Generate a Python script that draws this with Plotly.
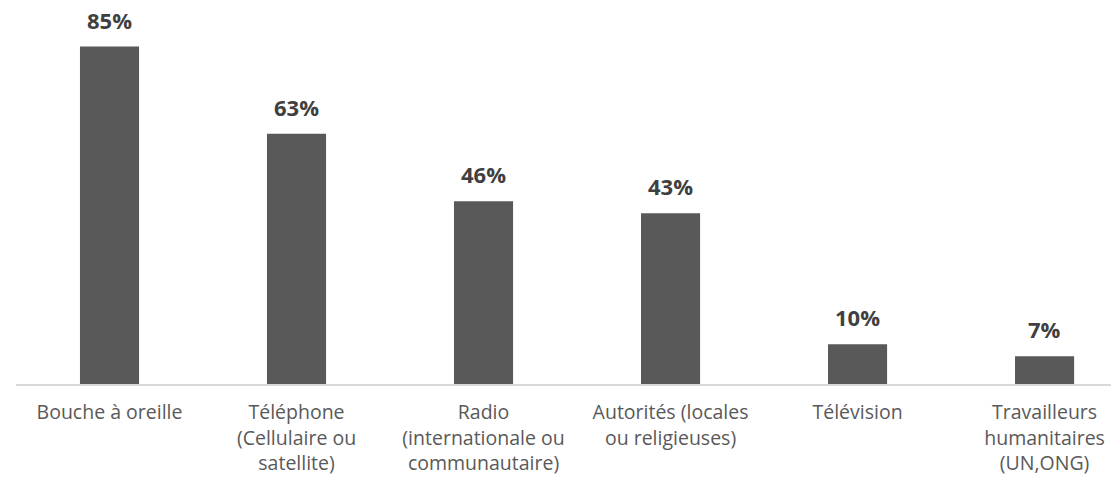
import plotly.graph_objects as go

categories = [
    "Bouche à oreille",
    "Téléphone<br>(Cellulaire ou<br>satellite)",
    "Radio<br>(internationale ou<br>communautaire)",
    "Autorités (locales<br>ou religieuses)",
    "Télévision",
    "Travailleurs<br>humanitaires<br>(UN,ONG)",
]
values = [85, 63, 46, 43, 10, 7]
labels = [f"{v}%" for v in values]

x_pos = list(range(len(categories)))

fig = go.Figure()
fig.add_trace(go.Bar(
    x=x_pos,
    y=values,
    width=0.316,
    marker=dict(color="#595959", line=dict(width=0)),
    hoverinfo="skip",
))

# bold value labels above bars
for xi, v, lab in zip(x_pos, values, labels):
    fig.add_annotation(
        x=xi, y=v, text=f"<b>{lab}</b>",
        showarrow=False, yanchor="bottom", yshift=11, borderpad=0,
        font=dict(family="Open Sans", size=22, color="#404040"),
    )

# page body adds 8px offset, so the figure is sized a bit smaller
fig.update_layout(
    width=1111,
    height=475,
    margin=dict(l=8, r=0, t=2, b=99, autoexpand=False),
    paper_bgcolor="white",
    plot_bgcolor="white",
    showlegend=False,
    font=dict(family="Open Sans", size=19, color="#595959"),
    xaxis=dict(
        range=[-0.5, 5.398],
        tickmode="array",
        tickvals=x_pos,
        ticktext=categories,
        showline=True,
        linecolor="#d9d9d9",
        linewidth=1.5,
        ticks="outside",
        ticklen=10,
        tickcolor="rgba(0,0,0,0)",
        showgrid=False,
        zeroline=False,
        automargin=False,
        tickfont=dict(family="Open Sans", size=19.5, color="#595959"),
    ),
    yaxis=dict(
        range=[0, 94.2],
        visible=False,
        showgrid=False,
        zeroline=False,
        automargin=False,
    ),
)

fig.write_html("out.html")
